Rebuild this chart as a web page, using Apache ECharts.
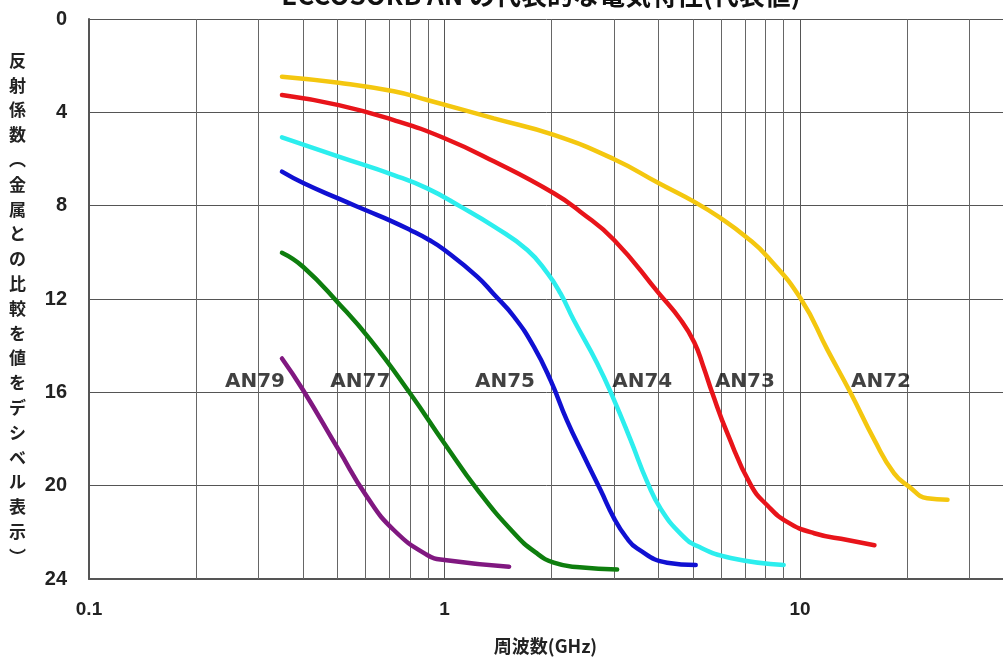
<!DOCTYPE html>
<html>
<head>
<meta charset="utf-8">
<script src="https://cdn.jsdelivr.net/npm/echarts@6/dist/echarts.min.js"></script>
<style>
html, body { margin: 0; padding: 0; background: #fff; }
#chart { width: 1003px; height: 658px; }
</style>
</head>
<body>
<div id="chart"></div>
<script>
// 周波数(GHz), 反射係数(dB) の読み取り値
const an72 = [[0.349, 2.47], [0.504, 2.73], [0.72, 3.1], [0.894, 3.47], [1.377, 4.26], [2.03, 4.97], [3.0, 6.01], [4.01, 7.04], [5.09, 7.87], [5.99, 8.54], [7.04, 9.33], [8.1, 10.19], [10.07, 12.01], [11.96, 14.19], [13.9, 16.04], [16.2, 18.05], [18.4, 19.47], [20.3, 20.05], [22.8, 20.54], [26.0, 20.6]];
const an73 = [[0.349, 3.26], [0.504, 3.69], [0.72, 4.33], [1.0, 5.11], [1.38, 6.11], [2.03, 7.47], [2.41, 8.26], [3.0, 9.47], [4.01, 11.76], [4.62, 12.9], [5.04, 13.85], [5.35, 14.9], [5.67, 16.04], [6.25, 17.76], [7.27, 19.97], [8.1, 20.85], [9.2, 21.55], [10.96, 22.04], [13.6, 22.33], [16.2, 22.55]];
const an74 = [[0.349, 5.07], [0.504, 5.9], [0.72, 6.69], [0.894, 7.26], [1.11, 8.04], [1.38, 8.9], [1.71, 9.9], [1.95, 10.9], [2.12, 11.76], [2.31, 12.9], [2.69, 14.76], [3.0, 16.33], [3.34, 18.05], [3.72, 19.85], [4.06, 21.0], [4.64, 22.1], [5.16, 22.6], [6.38, 23.1], [9.0, 23.4]];
const an75 = [[0.349, 6.54], [0.402, 7.04], [0.504, 7.7], [0.606, 8.22], [0.704, 8.64], [0.8, 9.04], [0.903, 9.46], [0.996, 9.88], [1.236, 11.04], [1.377, 11.8], [1.567, 12.75], [1.785, 14.05], [1.99, 15.5], [2.21, 17.2], [2.47, 18.75], [2.75, 20.2], [3.0, 21.4], [3.24, 22.2], [3.49, 22.7], [4.23, 23.3], [5.09, 23.4]];
const an77 = [[0.349, 10.02], [0.4, 10.62], [0.504, 12.19], [0.619, 13.75], [0.8, 16.04], [1.0, 18.19], [1.24, 20.19], [1.57, 22.04], [1.8, 22.85], [2.03, 23.3], [2.4, 23.5], [3.06, 23.59]];
const an79 = [[0.349, 14.55], [0.4, 15.9], [0.504, 18.47], [0.605, 20.47], [0.72, 21.9], [0.894, 22.97], [1.0, 23.19], [1.52, 23.47]];

const seriesNames = ['AN72', 'AN73', 'AN74', 'AN75', 'AN77', 'AN79'];
const seriesColors = ['#F4C70F', '#E8141A', '#2CEEEE', '#1010D2', '#0E7E0E', '#801880'];
const seriesData = [an72, an73, an74, an75, an77, an79];

// 曲線ラベルの位置
const labelPoints = [[16.9, 15.55, 'AN72'], [7.0, 15.55, 'AN73'], [3.6, 15.55, 'AN74'], [1.48, 15.55, 'AN75'], [0.58, 15.55, 'AN77'], [0.293, 15.55, 'AN79']];

// 補助目盛り(2〜9倍)
const minorTicks = [0.2, 0.3, 0.4, 0.5, 0.6, 0.7, 0.8, 0.9, 2, 3, 4, 5, 6, 7, 8, 9, 20, 30];

const yTitle = ['反', '射', '係', '数', '︵', '金', '属', 'と', 'の', '比', '較', 'を', '値', 'を', 'デ', 'シ', 'ベ', 'ル', '表', '示', '︶'];

const chart = echarts.init(document.getElementById('chart'));

const series = seriesData.map((d, i) => ({
  name: seriesNames[i],
  type: 'line',
  data: d,
  smooth: 0.5,
  symbol: 'none',
  lineStyle: { color: seriesColors[i], width: 4.5, cap: 'round' },
  z: 5
}));

series.push({
  type: 'line',
  data: [],
  markLine: {
    silent: true,
    symbol: 'none',
    label: { show: false },
    lineStyle: { color: '#666', width: 1, type: 'solid' },
    data: minorTicks.map(v => ({ xAxis: v }))
  },
  z: 1
});

series.push({
  type: 'scatter',
  data: labelPoints,
  symbolSize: 1,
  itemStyle: { color: 'rgba(255,255,255,0)' },
  label: {
    show: true,
    position: 'inside',
    formatter: p => p.data[2],
    color: '#111',
    fontFamily: 'DejaVu Sans',
    fontWeight: 'bold',
    fontSize: 20
  },
  z: 6
});

const options = {
  animation: false,
  backgroundColor: '#fff',
  title: {
    text: 'ECCOSORB AN の代表的な電気特性(代表値)',
    left: 536,
    textAlign: 'center',
    top: -23,
    textStyle: {
      fontFamily: 'Noto Sans CJK JP',
      fontWeight: 'bold',
      fontSize: 26,
      color: '#111'
    }
  },
  grid: {
    left: 89,
    top: 19,
    bottom: 79,
    width: 925,
    containLabel: false,
    outerBoundsMode: 'none'
  },
  xAxis: {
    type: 'log',
    logBase: 10,
    min: 0.1,
    max: 40,
    name: '周波数(GHz)',
    nameLocation: 'middle',
    nameGap: 58,
    nameTextStyle: {
      fontFamily: 'Noto Sans CJK JP',
      fontWeight: 'bold',
      fontSize: 18,
      color: '#222',
      padding: [0, 12, 0, 0]
    },
    axisLine: { show: true, onZero: false, lineStyle: { color: '#555', width: 2 } },
    axisTick: { show: false },
    axisLabel: {
      margin: 21,
      fontFamily: 'Liberation Sans',
      fontWeight: 'bold',
      fontSize: 19,
      color: '#222',
      formatter: v => (v >= 40 ? '' : String(v))
    },
    splitLine: { show: true, lineStyle: { color: '#555', width: 1 } }
  },
  yAxis: {
    type: 'value',
    inverse: true,
    min: 0,
    max: 24,
    interval: 4,
    axisLine: { show: true, lineStyle: { color: '#555', width: 2 } },
    axisTick: { show: false },
    axisLabel: {
      margin: 22,
      fontFamily: 'Liberation Sans',
      fontWeight: 'bold',
      fontSize: 20,
      color: '#222'
    },
    splitLine: { show: true, lineStyle: { color: '#555', width: 1 } }
  },
  graphic: [{
    type: 'text',
    left: 9,
    top: 48,
    style: {
      text: yTitle.join('\n'),
      font: 'bold 17px "Noto Sans CJK JP"',
      lineHeight: 24.8,
      fill: '#222',
      align: 'center'
    }
  }],
  series: series
};

chart.setOption(options);
</script>
</body>
</html>
